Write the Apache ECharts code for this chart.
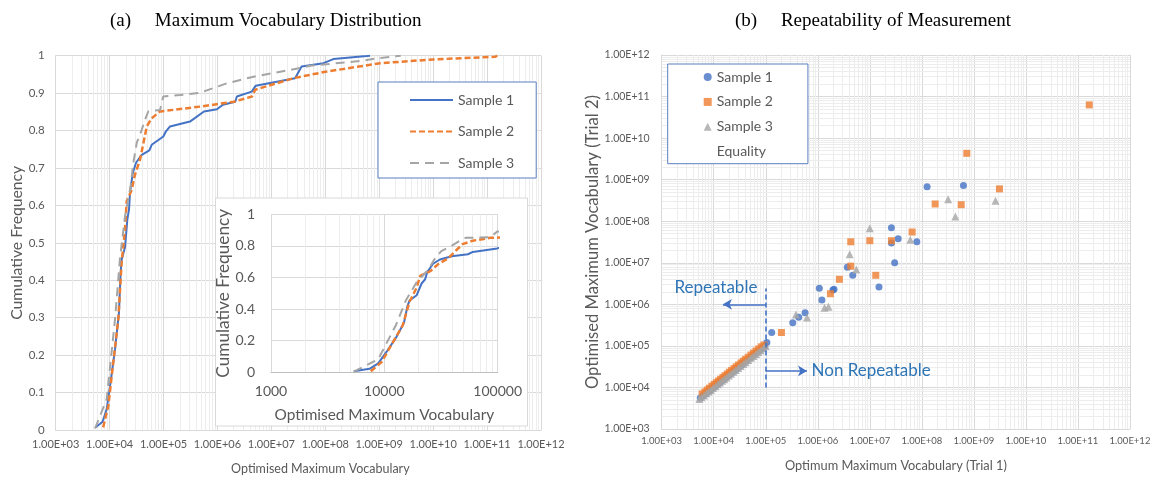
<!DOCTYPE html>
<html><head><meta charset="utf-8">
<script src="https://cdn.jsdelivr.net/npm/echarts@6/dist/echarts.min.js"></script>
<style>html,body{margin:0;padding:0;background:#fff}#c{width:1157px;height:480px}</style>
</head><body><div id="c"></div>
<script>
// ---------- tick labels ----------
const decadeLabels = ['1.00E+03','1.00E+04','1.00E+05','1.00E+06','1.00E+07','1.00E+08','1.00E+09','1.00E+10','1.00E+11','1.00E+12'];
const insetTickLabels = ['1000','10000','100000'];
const sampleNames = ['Sample 1','Sample 2','Sample 3'];

// ---------- (a) cumulative distributions [vocabulary, cumulative frequency] ----------
const cdfSample1 = [[5370,0.006],[7400,0.022],[8830,0.056],[10600,0.136],[12600,0.216],[14900,0.314],[16000,0.42],[16700,0.455],[19300,0.488],[21300,0.562],[22900,0.589],[23900,0.634],[26900,0.687],[30900,0.714],[39400,0.735],[54600,0.747],[60300,0.762],[99100,0.784],[111000,0.798],[132000,0.811],[309000,0.824],[562000,0.851],[977000,0.857],[1260000,0.869],[2140000,0.877],[2290000,0.891],[4320000,0.904],[5130000,0.92],[27500000,0.94],[36300000,0.971],[92300000,0.98],[141000000,0.991],[589000000,0.999],[676000000,1.0]];
const cdfSample2 = [[7590,0.007],[9470,0.065],[11700,0.181],[14500,0.296],[16700,0.448],[19300,0.536],[20700,0.611],[25700,0.642],[29500,0.682],[36600,0.722],[48900,0.811],[60300,0.833],[86100,0.851],[479000,0.864],[2000000,0.877],[4370000,0.891],[5010000,0.909],[25700000,0.94],[100000000,0.957],[1050000000,0.98],[10000000000,0.99],[140000000000,0.997],[155000000000,1.0]];
const cdfSample3 = [[5370,0.004],[8830,0.083],[12600,0.296],[15500,0.456],[19300,0.571],[24500,0.651],[27500,0.713],[31800,0.767],[39400,0.802],[45400,0.829],[52200,0.851],[86100,0.855],[99100,0.891],[202000,0.895],[479000,0.901],[1480000,0.926],[4680000,0.944],[22400000,0.962],[52500000,0.973],[447000000,0.986],[912000000,0.993],[2500000000,1.0]];

// ---------- (b) repeatability [trial 1, trial 2] ----------
const repSample1 = [[5500,5600],[6200,6300],[7000,7100],[7800,7900],[8500,8600],[9300,9500],[10500,10600],[11500,11800],[12500,12700],[13500,13800],[15000,15300],[16500,16800],[18000,18400],[20000,20500],[22000,22300],[24000,24600],[27000,27500],[30000,30800],[34000,34500],[38000,39000],[43000,44000],[50000,51000],[58000,60000],[65000,67000],[75000,77000],[85000,88000],[95000,98000],
  [105000,120000],[130000,210000],[330000,360000],[430000,490000],[570000,630000],[1070000,2450000],[1200000,1270000],[1950000,2200000],[2050000,2300000],[3700000,7800000],[4700000,5000000],[15000000,2600000],[26000000,70000000],[26000000,30000000],[35000000,38000000],[30000000,10000000],[80000000,32000000],[126000000,680000000],[630000000,720000000]];
const repSample2 = [[6000,7000],[6800,7800],[7500,8700],[8300,9600],[9200,10700],[10200,11800],[11200,13000],[12300,14300],[13500,15700],[15000,17400],[16500,19200],[18200,21100],[20000,23300],[22000,25600],[24500,28500],[27000,31400],[30000,34800],[33500,38800],[37000,43000],[41000,47600],[46000,53400],[52000,60300],[58000,67300],[65000,75400],[73000,84700],[82000,95000],[92000,105000],
  [200000,210000],[1750000,1800000],[2600000,4000000],[4300000,32000000],[4300000,8300000],[10000000,34000000],[13000000,5000000],[26000000,34000000],[65000000,55000000],[180000000,260000000],[570000000,250000000],[730000000,4300000000],[3100000000,600000000],[165000000000,63000000000]];
const repSample3 = [[5300,5300],[5800,5800],[6500,6400],[7200,7200],[8000,8000],[8800,8700],[9700,9700],[10800,10700],[12000,11900],[13200,13100],[14500,14400],[16000,15800],[17500,17400],[19500,19300],[21500,21300],[24000,23700],[26500,26200],[29500,29200],[33000,32600],[37000,36500],[41000,40500],[46000,45500],[52000,51500],[58000,57500],[65000,64000],[72000,71000],[80000,79000],[90000,89000],[100000,99000],
  [380000,570000],[620000,480000],[1350000,830000],[1600000,880000],[4100000,16000000],[5500000,6900000],[10000000,68000000],[60000000,36000000],[320000000,340000000],[440000000,130000000],[2600000000,310000000]];
const equality = [[1e3,1e3],[1e12,1e12]];

// annotations (data coordinates)
const thresholdLine = [[1e5,1e4],[1e5,2.4e6]];
const arrowRepeatable = [[1e5,1e6],[1.5e4,1e6]];
const arrowNonRepeatable = [[1e5,2.5e4],[6.2e5,2.5e4]];
const annotationTexts = [{text:'Repeatable', at:[1.1e4,2.6e6]},{text:'Non Repeatable', at:[1.06e7,2.5e4]}];

// ---------- styles ----------
const FONT = 'Lato';
const BLUE = '#4472C4', ORANGE = '#ED7D31', GRAY = '#A5A5A5';
const TXT = '#595959';
const MAJOR = '#d9d9d9', MINOR = '#ededed';

function minorValues(loExp, hiExp){
  const out = [];
  for (let d = loExp; d < hiExp; d++) for (let k = 2; k <= 9; k++) out.push(k * Math.pow(10, d));
  return out;
}
const decadeFmt = v => decadeLabels[Math.round(Math.log10(v)) - 3];
const insetFmt = v => insetTickLabels[Math.round(Math.log10(v)) - 3];

function minorSeries(xi, yi, xs, ys, z){
  const data = xs.map(v => ({xAxis: v})).concat(ys.map(v => ({yAxis: v})));
  return {type:'line', xAxisIndex:xi, yAxisIndex:yi, data:[], z:z, silent:true,
    markLine:{z:z, silent:true, symbol:['none','none'], animation:false, label:{show:false},
      lineStyle:{color:MINOR, width:1, type:'solid'}, emphasis:{disabled:true}, data:data}};
}

function logAxis(grid, min, max, fmt, extra){
  return Object.assign({gridIndex:grid, type:'log', logBase:10, min:min, max:max, interval:1,
    axisTick:{show:false}, axisLine:{show:true, lineStyle:{color:MAJOR}},
    splitLine:{show:true, lineStyle:{color:MAJOR}},
    axisLabel:{color:TXT, fontFamily:FONT, fontSize:10, formatter:fmt},
    nameLocation:'middle', nameTextStyle:{color:TXT, fontFamily:FONT, fontSize:14}}, extra);
}

const chart = echarts.init(document.getElementById('c'));
const option = {
  animation:false,
  backgroundColor:'#fff',
  title:[
    {text:'(a)     Maximum Vocabulary Distribution', left:105, top:7, textStyle:{fontFamily:'Liberation Serif', fontSize:19, fontWeight:'normal', color:'#000'}},
    {text:'(b)     Repeatability of Measurement', left:730, top:7, textStyle:{fontFamily:'Liberation Serif', fontSize:19, fontWeight:'normal', color:'#000'}}
  ],
  grid:[
    {left:55.7, right:616, top:55.7, bottom:49},
    {left:271, right:659.3, top:214.3, bottom:107.7, z:11},
    {left:661.7, right:27, top:55, bottom:51}
  ],
  graphic:[
    {type:'rect', z:10, shape:{x:215.5, y:198, width:312, height:228}, style:{fill:'#fff', stroke:MAJOR, lineWidth:1}}
  ],
  legend:[
    {data:sampleNames, orient:'vertical', left:378, top:82, padding:[11,22,8,31], itemWidth:43, itemHeight:14, itemGap:17.5, z:30,
      borderColor:'#5b7fbf', borderWidth:1, backgroundColor:'#fff', selectedMode:false,
      itemStyle:{color:'rgba(0,0,0,0)', borderWidth:0, opacity:0},
      textStyle:{color:TXT, fontFamily:FONT, fontSize:14}},
    {data:['Sample 1 ','Sample 2 ','Sample 3 ',{name:'Equality', icon:'none'}], orient:'vertical', left:667.7, top:64, padding:[6,35,5,36], z:30,
      itemWidth:8, itemHeight:8, itemGap:10.9, borderColor:'#5b7fbf', borderWidth:1, backgroundColor:'#fff', selectedMode:false,
      formatter: n => n.trim(), textStyle:{color:TXT, fontFamily:FONT, fontSize:14}}
  ],
  xAxis:[
    logAxis(0, 1e3, 1e12, decadeFmt, {name:'Optimised Maximum Vocabulary', nameGap:32,
      nameTextStyle:{color:TXT, fontFamily:FONT, fontSize:12.5, padding:[0,0,0,44]},
      axisLabel:{color:TXT, fontFamily:FONT, fontSize:11, margin:9, formatter:decadeFmt}}),
    logAxis(1, 1e3, 1e5, insetFmt, {z:11, name:'Optimised Maximum Vocabulary', nameGap:35, axisLine:{show:true, lineStyle:{color:'#bfbfbf'}},
      axisLabel:{color:TXT, fontFamily:FONT, fontSize:14, margin:12, formatter:insetFmt}, nameTextStyle:{color:TXT, fontFamily:FONT, fontSize:15.4}}),
    logAxis(2, 1e3, 1e12, decadeFmt, {name:'Optimum Maximum Vocabulary (Trial 1)', nameGap:30,
      nameTextStyle:{color:TXT, fontFamily:FONT, fontSize:12.8},
      axisLabel:{color:TXT, fontFamily:FONT, fontSize:9.5, margin:7, formatter:decadeFmt}})
  ],
  yAxis:[
    {gridIndex:0, type:'value', min:0, max:1, interval:0.1, axisTick:{show:false}, axisLine:{show:true, lineStyle:{color:MAJOR}},
      splitLine:{lineStyle:{color:MAJOR}}, axisLabel:{color:TXT, fontFamily:FONT, fontSize:11.5, margin:11},
      name:'Cumulative Frequency', nameLocation:'middle', nameGap:31, nameTextStyle:{color:TXT, fontFamily:FONT, fontSize:15.7}},
    {gridIndex:1, type:'value', min:0, max:1, interval:0.2, z:11, axisTick:{show:false}, axisLine:{show:false},
      splitLine:{lineStyle:{color:MAJOR}}, axisLabel:{color:TXT, fontFamily:FONT, fontSize:14, margin:16},
      name:'Cumulative Frequency', nameLocation:'middle', nameGap:35, nameTextStyle:{color:TXT, fontFamily:FONT, fontSize:17.2}},
    logAxis(2, 1e3, 1e12, decadeFmt, {name:'Optimised Maximum Vocabulary (Trial 2)', nameGap:61,
      nameTextStyle:{color:TXT, fontFamily:FONT, fontSize:16.6},
      axisLabel:{color:TXT, fontFamily:FONT, fontSize:10.5, margin:12, formatter:decadeFmt}})
  ],
  series:[
    minorSeries(0, 0, minorValues(3,12), [], 1),
    {name:'Sample 1', type:'line', xAxisIndex:0, yAxisIndex:0, data:cdfSample1, symbol:'none', color:BLUE, lineStyle:{color:BLUE, width:2}, z:3},
    {name:'Sample 2', type:'line', xAxisIndex:0, yAxisIndex:0, data:cdfSample2, symbol:'none', color:ORANGE, lineStyle:{color:ORANGE, width:2.5, type:[6,3]}, z:4},
    {name:'Sample 3', type:'line', xAxisIndex:0, yAxisIndex:0, data:cdfSample3, symbol:'none', color:GRAY, lineStyle:{color:GRAY, width:2, type:[9,6]}, z:5},

    minorSeries(1, 1, minorValues(3,5), [], 11),
    {type:'line', xAxisIndex:1, yAxisIndex:1, data:cdfSample1, symbol:'none', lineStyle:{color:BLUE, width:2}, z:12},
    {type:'line', xAxisIndex:1, yAxisIndex:1, data:cdfSample2, symbol:'none', lineStyle:{color:ORANGE, width:2.5, type:[6,3]}, z:13},
    {type:'line', xAxisIndex:1, yAxisIndex:1, data:cdfSample3, symbol:'none', lineStyle:{color:GRAY, width:2, type:[9,6]}, z:14},

    minorSeries(2, 2, minorValues(3,12), minorValues(3,12), 1),
    {name:'Sample 1 ', type:'scatter', xAxisIndex:2, yAxisIndex:2, data:repSample1, symbol:'circle', symbolSize:7, itemStyle:{color:BLUE}, z:3},
    {name:'Sample 2 ', type:'scatter', xAxisIndex:2, yAxisIndex:2, data:repSample2, symbol:'rect', symbolSize:7, itemStyle:{color:ORANGE}, z:4},
    {name:'Sample 3 ', type:'scatter', xAxisIndex:2, yAxisIndex:2, data:repSample3, symbol:'triangle', symbolSize:8, itemStyle:{color:GRAY}, z:5},
    {name:'Equality', type:'line', xAxisIndex:2, yAxisIndex:2, data:equality, symbol:'none', lineStyle:{opacity:0}, z:2},
    {type:'line', xAxisIndex:2, yAxisIndex:2, data:[], z:6,
      markLine:{z:6, silent:true, animation:false, symbol:['none','arrow'], symbolSize:[8,9], label:{show:false},
        lineStyle:{color:BLUE, width:1.6, type:'solid'},
        data:[
          [{coord:thresholdLine[0], symbol:'none', lineStyle:{type:[5,3], color:BLUE, width:1.6}}, {coord:thresholdLine[1], symbol:'none'}],
          [{coord:arrowRepeatable[0]}, {coord:arrowRepeatable[1]}],
          [{coord:arrowNonRepeatable[0]}, {coord:arrowNonRepeatable[1]}]
        ]}}
  ]
};
chart.setOption(option);

const g = option.graphic.slice();
annotationTexts.forEach(a => {
  const p = chart.convertToPixel({xAxisIndex:2, yAxisIndex:2}, a.at);
  g.push({type:'text', z:20, x:p[0], y:p[1], style:{text:a.text, fill:'#2E75B6', font:'17px ' + FONT, textAlign:'center', textVerticalAlign:'middle'}});
});
chart.setOption({graphic:g});
</script>
</body></html>
